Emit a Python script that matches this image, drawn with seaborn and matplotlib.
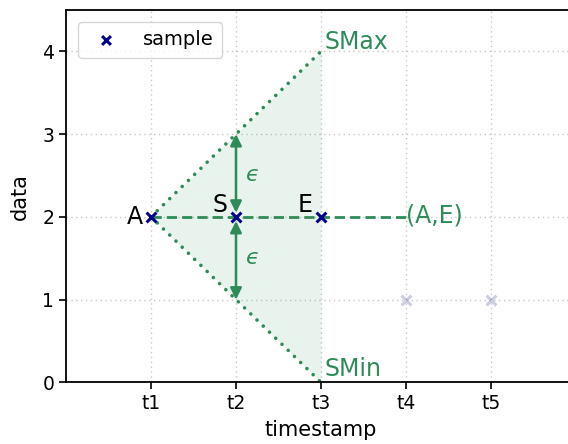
import matplotlib
matplotlib.use("Agg")
import matplotlib.pyplot as plt
import seaborn as sns
import pandas as pd
import numpy as np

# ---- data ----
timestamps = [1, 2, 3, 4, 5]
tick_labels = ["t1", "t2", "t3", "t4", "t5"]
values = [2, 2, 2, 1, 1]
point_names = ["A", "S", "E"]
n_active = 3
cone_x = [1, 3]
smax_y = [2, 4]
smin_y = [2, 0]
segment_x = [1, 4]
segment_y = [2, 2]
epsilon = 1
y_ticks = [0, 1, 2, 3, 4]

green = "#2e8b57"
navy = "#00008b"

sns.set_style("ticks")
plt.rcParams["font.family"] = ["DejaVu Sans"]
plt.rcParams["text.color"] = "black"
plt.rcParams["axes.labelcolor"] = "black"
plt.rcParams["xtick.color"] = "black"
plt.rcParams["ytick.color"] = "black"

fig = plt.figure(figsize=(5.68, 4.44), dpi=100)
ax = fig.add_axes([66 / 568, 61.7 / 444, 510 / 568, 372.3 / 444])

df = pd.DataFrame({"timestamp": timestamps, "data": values})
act = df.iloc[:n_active]
rest = df.iloc[n_active:]

# cone fill
ax.fill_between(cone_x, smin_y, smax_y, color=green, alpha=0.1, linewidth=0, zorder=1)

# cone boundaries
cone_df = pd.DataFrame({"x": cone_x, "ymax": smax_y, "ymin": smin_y})
for col in ("ymax", "ymin"):
    sns.lineplot(data=cone_df, x="x", y=col, ax=ax, color=green, linestyle=(0, (0.01, 2.4)),
                 linewidth=2.6, zorder=2, legend=False, dash_capstyle="round")

# dashed segment (A,E)
seg_df = pd.DataFrame({"x": segment_x, "y": segment_y})
sns.lineplot(data=seg_df, x="x", y="y", ax=ax, color=green, linestyle=(0, (3.7, 1.8)),
             linewidth=2, zorder=2, legend=False)

# epsilon arrows
s_x = timestamps[1]
s_y = values[1]
for sign in (1, -1):
    ax.annotate("", xy=(s_x, s_y + sign * epsilon), xytext=(s_x, s_y),
                arrowprops=dict(arrowstyle="<|-|>", color=green, lw=1.8,
                                shrinkA=3, shrinkB=0, mutation_scale=17), zorder=3)
    ax.text(s_x + 0.11, s_y + sign * epsilon / 2, "\u03f5", color=green,
            fontsize=16, fontstyle="italic", ha="left", va="center")

# samples
sns.scatterplot(data=act, x="timestamp", y="data", ax=ax, marker="x", color=navy,
                s=50, linewidth=2.2, label="sample", zorder=5)
sns.scatterplot(data=rest, x="timestamp", y="data", ax=ax, marker="x", color=navy,
                s=50, linewidth=2.2, alpha=0.2, zorder=5, legend=False)

# point labels
fs = 17
ax.text(timestamps[0] - 0.1, values[0], point_names[0], fontsize=fs, ha="right", va="center")
ax.text(timestamps[1] - 0.1, values[1] + 0.0, point_names[1], fontsize=fs, ha="right", va="bottom")
ax.text(timestamps[2] - 0.1, values[2] + 0.0, point_names[2], fontsize=fs, ha="right", va="bottom")
ax.text(cone_x[1] + 0.04, smax_y[1] - 0.03, "SMax", color=green, fontsize=fs, ha="left", va="bottom")
ax.text(cone_x[1] + 0.04, smin_y[1] + 0.02, "SMin", color=green, fontsize=fs, ha="left", va="bottom")
ax.text(segment_x[1] + 0.0, segment_y[1] + 0.02, "(A,E)", color=green, fontsize=fs, ha="left", va="center")

ax.set_xlim(0, 6)
ax.set_ylim(0, 4.5)
ax.set_xticks(timestamps)
ax.set_xticklabels(tick_labels)
ax.set_yticks(y_ticks)
ax.tick_params(labelsize=13.5, length=5, width=1.2)
ax.grid(True, linestyle=(0, (1, 2.5)), color="#c8c8c8", linewidth=1)
ax.set_axisbelow(True)
for sp in ax.spines.values():
    sp.set_linewidth(1.3)
    sp.set_color("black")
ax.set_xlabel("timestamp", fontsize=15, labelpad=5)
ax.set_ylabel("data", fontsize=15, labelpad=9)

leg = ax.legend(loc="upper left", fontsize=14, handletextpad=0.9, borderpad=0.45,
                borderaxespad=0.6, markerscale=0.9)
leg.get_frame().set_edgecolor("#cccccc")

fig.savefig("out.png", dpi=100)
